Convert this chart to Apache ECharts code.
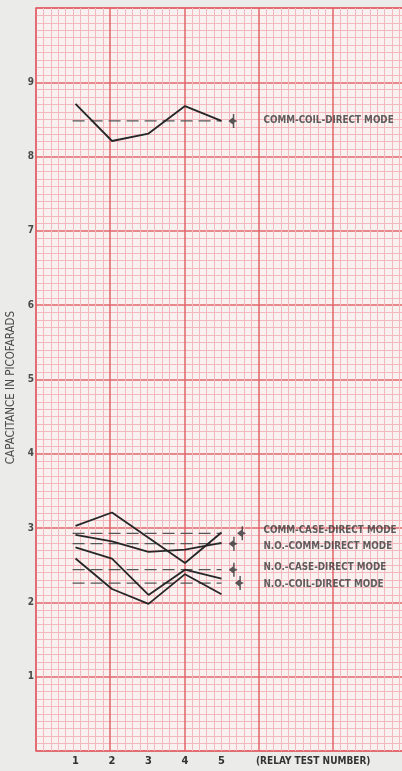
<!DOCTYPE html>
<html>
<head>
<meta charset="utf-8">
<title>Relay Capacitance</title>
<script src="https://cdn.jsdelivr.net/npm/echarts@6/dist/echarts.min.js"></script>
<style>
    html, body {
        margin: 0;
        padding: 0;
        background: #ebebea;
    }
    #chart {
        width: 402px;
        height: 771px;
    }
</style>
</head>
<body>
<div id="chart"></div>
<script>
// =====================================
// Data
// =====================================

const testNumbers = [1, 2, 3, 4, 5];

const commCoil = [8.71, 8.21, 8.31, 8.68, 8.48];
const commCase = [3.03, 3.21, 2.87, 2.53, 2.94];
const noComm = [2.91, 2.82, 2.68, 2.71, 2.80];
const noCase = [2.74, 2.59, 2.10, 2.44, 2.32];
const noCoil = [2.59, 2.18, 1.98, 2.38, 2.11];

const modeNames = [
    "COMM-COIL-DIRECT MODE",
    "COMM-CASE-DIRECT MODE",
    "N.O.-COMM-DIRECT MODE",
    "N.O.-CASE-DIRECT MODE",
    "N.O.-COIL-DIRECT MODE"
];

// dashed average lines + tolerance marks
const meanValues = [8.48, 2.93, 2.79, 2.44, 2.26];
const markerX = [5.31, 5.55, 5.32, 5.32, 5.49];
const labelY = [8.48, 2.97, 2.75, 2.47, 2.24];
const labelX = 6.15;
const dashFrom = 0.92;
const dashTo = 5;

const yLabels = [1, 2, 3, 4, 5, 6, 7, 8, 9];

// =====================================
// Styles
// =====================================

const MAJOR = "#e2646a";
const MINOR = "#f2b8bd";
const PAPER = "#f8f1f0";
const INK = "#262626";
const TEXT = "#4a4a4a";
const CONDENSED = "'DejaVu Sans Condensed', 'Liberation Sans Narrow', sans-serif";

let chart = null;

document.addEventListener(
    "DOMContentLoaded",
    initChart
);

function solidSeries(values) {
    return {
        type: "line",
        xAxisIndex: 1,
        yAxisIndex: 1,
        data: testNumbers.map((n, i) => [n, values[i]]),
        symbol: "none",
        lineStyle: {
            color: INK,
            width: 1.8
        },
        silent: true,
        z: 5
    };
}

function meanSeries(value) {
    return {
        type: "line",
        xAxisIndex: 1,
        yAxisIndex: 1,
        data: [[dashFrom, value], [dashTo, value]],
        symbol: "none",
        lineStyle: {
            color: "#555",
            width: 1.3,
            type: [12, 6]
        },
        silent: true,
        z: 4
    };
}

const minorRule = {
    show: true,
    splitNumber: 10,
    length: 0
};

// =====================================
// Chart
// =====================================

function initChart() {
    chart = echarts.init(
        document.getElementById("chart")
    );

    const series = [
        solidSeries(commCoil),
        solidSeries(commCase),
        solidSeries(noComm),
        solidSeries(noCase),
        solidSeries(noCoil)
    ];

    meanValues.forEach(v => {
        series.push(meanSeries(v));
    });

    // tolerance marks at the end of each dashed line
    series.push({
        type: "scatter",
        xAxisIndex: 1,
        yAxisIndex: 1,
        data: meanValues.map((v, i) => [markerX[i], v]),
        symbol: "path://M4,0 L5.3,0 L5.3,14 L4,14 Z M0,7 L4,3.5 L4,10.5 Z M5.3,5.5 L8,7 L5.3,8.5 Z",
        symbolSize: [9, 14],
        itemStyle: {
            color: "#2e2e2e"
        },
        silent: true,
        z: 6
    });

    // mode labels
    series.push({
        type: "scatter",
        xAxisIndex: 1,
        yAxisIndex: 1,
        data: modeNames.map((name, i) => ({
            value: [labelX, labelY[i]],
            name: name
        })),
        symbolSize: 0,
        label: {
            show: true,
            position: "right",
            distance: 0,
            formatter: "{b}",
            color: "#3a3a3a",
            fontFamily: CONDENSED,
            fontWeight: "bold",
            fontSize: 9.8
        },
        silent: true,
        z: 6
    });

    chart.setOption({
        animation: false,
        backgroundColor: "#ebebea",
        grid: [
            {
                // the ruled paper
                left: 36,
                right: -5,
                top: 8,
                bottom: 20,
                outerBoundsMode: "none",
                show: true,
                backgroundColor: PAPER,
                borderColor: MAJOR,
                borderWidth: 1.5
            },
            {
                // plotted tests sit a little right of the rulings
                left: 39,
                right: -2,
                top: 8,
                bottom: 20,
                outerBoundsMode: "none"
            }
        ],
        xAxis: [
            {
                gridIndex: 0,
                type: "value",
                min: 0,
                max: 10,
                interval: 2,
                axisLine: { show: false },
                axisTick: { show: false },
                axisLabel: { show: false },
                minorTick: minorRule,
                splitLine: {
                    show: true,
                    lineStyle: { color: MAJOR, width: 1.5 }
                },
                minorSplitLine: {
                    show: true,
                    lineStyle: { color: MINOR, width: 1 }
                }
            },
            {
                gridIndex: 1,
                type: "value",
                min: 0,
                max: 10,
                interval: 1,
                position: "bottom",
                axisLine: { show: false },
                axisTick: { show: false },
                splitLine: { show: false },
                axisLabel: {
                    margin: 5,
                    color: "#333",
                    fontFamily: CONDENSED,
                    fontWeight: "bold",
                    fontSize: 11,
                    formatter: function(v) {
                        return testNumbers.indexOf(v) >= 0 ? String(v) : "";
                    }
                }
            }
        ],
        yAxis: [
            {
                gridIndex: 0,
                type: "value",
                min: 0,
                max: 10,
                interval: 1,
                name: "CAPACITANCE IN PICOFARADS",
                nameLocation: "middle",
                nameGap: 7,
                nameTextStyle: {
                    color: TEXT,
                    fontFamily: CONDENSED,
                    fontSize: 11.5,
                    padding: [0, 16, 0, 0]
                },
                axisLine: { show: false },
                axisTick: { show: false },
                axisLabel: {
                    margin: 2,
                    color: TEXT,
                    fontFamily: CONDENSED,
                    fontWeight: "bold",
                    fontSize: 10,
                    formatter: function(v) {
                        return yLabels.indexOf(v) >= 0 ? String(v) : "";
                    }
                },
                minorTick: minorRule,
                splitLine: {
                    show: true,
                    lineStyle: { color: MAJOR, width: 1.5 }
                },
                minorSplitLine: {
                    show: true,
                    lineStyle: { color: MINOR, width: 1 }
                }
            },
            {
                gridIndex: 1,
                type: "value",
                min: 0,
                max: 10,
                show: false
            }
        ],
        graphic: [{
            type: "text",
            left: 256,
            top: 756,
            style: {
                text: "(RELAY TEST NUMBER)",
                fill: "#333",
                font: "bold 10px " + CONDENSED
            }
        }],
        series: series
    });
}

window.addEventListener(
    "resize",
    () => {
        if (chart)
            chart.resize();
    }
);
</script>
</body>
</html>
